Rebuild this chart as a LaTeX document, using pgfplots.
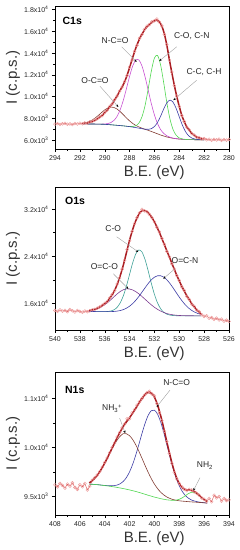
\documentclass[border=0pt]{standalone}
\usepackage{fontspec}
\setmainfont{Liberation Sans}
\usepackage{pgfplots}
\pgfplotsset{compat=1.18}
\usepackage{pgfplotstable}
\usetikzlibrary{arrows.meta}

\definecolor{datac}{RGB}{236,150,150}
\definecolor{datal}{RGB}{215,80,80}
\definecolor{envc}{RGB}{170,30,35}
\definecolor{cbrown}{RGB}{130,60,50}
\definecolor{cmag}{RGB}{200,80,210}
\definecolor{cgreen}{RGB}{80,215,80}
\definecolor{cblue}{RGB}{60,60,165}
\definecolor{cteal}{RGB}{60,160,150}
\definecolor{cpurple}{RGB}{125,60,145}
\definecolor{leader}{RGB}{160,160,160}

% ---------------- C1s ----------------
\pgfplotstableread{
E I
294.0 7480
293.8 7530
293.6 7460
293.4 7510
293.2 7550
293.0 7470
292.8 7500
292.6 7440
292.4 7530
292.2 7490
292.0 7560
291.8 7510
291.6 7590
291.4 7560
291.2 7680
291.0 7740
290.8 7850
290.6 7990
290.4 8150
290.2 8260
290.0 8550
289.8 8750
289.6 9100
289.4 9330
289.2 9720
289.0 10050
288.8 10500
288.6 10880
288.4 11380
288.2 11920
288.0 12700
287.8 13350
287.6 14150
287.4 14700
287.2 15350
287.0 15700
286.8 16150
286.6 16450
286.4 16600
286.2 16850
286.0 16950
285.8 17100
285.6 16820
285.4 16480
285.2 15700
285.0 14750
284.8 13350
284.6 12250
284.4 11000
284.2 10050
284.0 9100
283.8 8250
283.6 7720
283.4 7200
283.2 6950
283.0 6620
282.8 6480
282.6 6280
282.4 6250
282.2 6130
282.0 6150
281.8 6050
281.6 6100
281.4 6000
281.2 6080
281.0 6030
280.8 6100
280.6 5990
280.4 6060
280.2 6020
280.0 6070
}\dataA

\pgfplotstableread{
E I
291.8 7520
291.6 7545
291.4 7590
291.2 7650
291.0 7720
290.8 7820
290.6 7950
290.4 8100
290.2 8290
290.0 8520
289.8 8780
289.6 9050
289.4 9350
289.2 9700
289.0 10080
288.8 10480
288.6 10900
288.4 11350
288.2 11950
288.0 12650
287.8 13400
287.6 14100
287.4 14750
287.2 15280
287.0 15720
286.8 16100
286.6 16400
286.4 16620
286.2 16800
286.0 16950
285.8 17000
285.6 16850
285.4 16450
285.2 15750
285.0 14700
284.8 13400
284.6 12200
284.4 11050
284.2 10000
284.0 9100
283.8 8300
283.6 7700
283.4 7250
283.2 6920
283.0 6650
282.8 6450
282.6 6300
282.4 6200
282.2 6130
282.0 6090
}\envA

\pgfplotstableread{
E oco nco coc cch
291.75 7567 7500 7500 7500
291.50 7624 7497 7497 7497
291.25 7718 7493 7493 7493
291.00 7861 7490 7490 7490
290.75 8054 7486 7485 7485
290.50 8290 7484 7480 7480
290.25 8544 7483 7470 7470
290.00 8784 7494 7460 7460
289.75 8959 7527 7440 7440
289.50 9041 7623 7420 7420
289.25 9004 7825 7395 7395
289.00 8857 8202 7370 7370
288.75 8622 8813 7345 7345
288.50 8341 9677 7320 7320
288.25 8044 10736 7288 7285
288.00 7775 11851 7263 7250
287.75 7543 12799 7256 7205
287.50 7362 13354 7328 7161
287.25 7218 13361 7573 7108
287.00 7108 12802 8158 7061
286.75 7003 11797 9201 7012
286.50 6913 10581 10708 7004
286.25 6805 9361 12330 7057
286.00 6700 8325 13535 7256
285.75 6590 7530 13766 7638
285.50 6480 6975 12885 8207
285.25 6390 6627 11247 8878
285.00 6300 6404 9432 9429
284.75 6240 6281 7956 9680
284.50 6180 6195 6980 9485
284.25 6145 6150 6462 8916
284.00 6110 6110 6216 8142
283.75 6090 6090 6120 7390
283.50 6070 6070 6077 6797
283.25 6060 6060 6060 6415
283.00 6055 6055 6055 6207
282.75 6052 6052 6052 6109
282.50 6050 6050 6050 6068
282.25 6050 6050 6050 6055
282.00 6050 6050 6050 6050
}\compA

% ---------------- O1s ----------------
\pgfplotstableread{
E I
540.0 14800
539.8 14650
539.6 14900
539.4 14700
539.2 14820
539.0 14600
538.8 14950
538.6 14750
538.4 14550
538.2 14800
538.0 14650
537.8 14500
537.6 14700
537.4 14600
537.2 14750
537.0 14900
536.8 15000
536.6 15200
536.4 15400
536.2 15700
536.0 16000
535.8 16300
535.6 16900
535.4 17500
535.2 18200
535.0 19300
534.8 20300
534.6 21800
534.4 23300
534.2 25100
534.0 26600
533.8 28200
533.6 29500
533.4 30500
533.2 31300
533.0 31900
532.8 31650
532.6 31500
532.4 31050
532.2 30500
532.0 29800
531.8 28900
531.6 28100
531.4 27000
531.2 26000
531.0 24800
530.8 23900
530.6 22700
530.4 21800
530.2 20700
530.0 19900
529.8 18800
529.6 18200
529.4 17200
529.2 16700
529.0 15900
528.8 15500
528.6 14900
528.4 14600
528.2 14100
528.0 13800
527.8 13900
527.6 13500
527.4 13600
527.2 13300
527.0 13500
526.8 13200
526.6 13350
526.4 13000
526.2 13150
526.0 12950
}\dataB

\pgfplotstableread{
E teal purple blue env
537.25 14630 14762 14630 14800
537.00 14625 14849 14626 14900
536.75 14620 14982 14623 15050
536.50 14613 15172 14616 15250
536.25 14608 15434 14611 15550
536.00 14609 15770 14607 15950
535.75 14633 16178 14606 16450
535.50 14715 16641 14615 17150
535.25 14919 17132 14641 18000
535.00 15342 17607 14696 19200
534.75 16104 18019 14793 20700
534.50 17301 18316 14950 22500
534.25 18951 18463 15190 24600
534.00 20911 18439 15528 26700
533.75 22861 18277 15974 28500
533.50 24370 17996 16530 30000
533.25 25044 17617 17182 31100
533.00 24690 17172 17905 31700
532.75 23396 16697 18655 31700
532.50 21489 16215 19368 31350
532.25 19410 15759 19982 30700
532.00 17539 15347 20438 29800
531.75 16088 14994 20685 28700
531.50 15100 14700 20690 27500
531.25 14504 14468 20455 26200
531.00 14178 14287 19998 24900
530.75 14020 14157 19371 23600
530.50 13949 14064 18630 22300
530.25 13918 14001 17842 21000
530.00 13905 13959 17068 19800
529.75 13900 13933 16352 18700
529.50 13900 13919 15730 17700
529.25 13900 13910 15217 16800
529.00 13900 13905 14813 16000
528.75 13900 13903 14510 15300
528.50 13900 13901 14293 14700
528.25 13900 13900 14144 14200
}\compB

% ---------------- N1s ----------------
\pgfplotstableread{
E I
408.0 9680
407.8 9650
407.6 9700
407.4 9670
407.2 9630
407.0 9690
406.8 9660
406.6 9710
406.4 9640
406.2 9610
406.0 9680
405.8 9650
405.6 9700
405.4 9600
405.2 9660
405.0 9750
404.8 9790
404.6 9830
404.4 9880
404.2 9950
404.0 10020
403.8 10090
403.6 10170
403.4 10250
403.2 10320
403.0 10410
402.8 10480
402.6 10550
402.4 10610
402.2 10690
402.0 10690
401.8 10780
401.6 10830
401.4 10900
401.2 10950
401.0 11000
400.8 11050
400.6 11090
400.4 11110
400.2 11070
400.0 11040
399.8 10920
399.6 10780
399.4 10660
399.2 10500
399.0 10340
398.8 10160
398.6 10010
398.4 9870
398.2 9770
398.0 9700
397.8 9650
397.6 9610
397.4 9590
397.2 9610
397.0 9600
396.8 9570
396.6 9550
396.4 9520
396.2 9480
396.0 9460
395.8 9430
395.6 9470
395.4 9420
395.2 9520
395.0 9480
394.8 9500
394.6 9430
394.4 9470
394.2 9440
394.0 9450
}\dataC

\pgfplotstableread{
E blue brown green env
405.25 9690 9710 9690 9710
405.00 9688 9740 9688 9740
404.75 9684 9790 9684 9790
404.50 9681 9850 9680 9851
404.25 9675 9925 9674 9926
404.00 9670 10010 9668 10012
403.75 9667 10100 9662 10105
403.50 9665 10195 9655 10205
403.25 9667 10285 9648 10304
403.00 9676 10365 9640 10401
402.75 9696 10425 9631 10490
402.50 9733 10463 9622 10574
402.25 9792 10461 9612 10641
402.00 9878 10431 9602 10707
401.75 9993 10372 9590 10775
401.50 10136 10291 9578 10849
401.25 10298 10192 9564 10926
401.00 10466 10085 9550 11001
400.75 10621 9975 9535 11061
400.50 10743 9869 9520 11092
400.25 10814 9774 9506 11082
400.00 10821 9691 9492 11020
399.75 10761 9623 9480 10904
399.50 10642 9567 9468 10741
399.25 10480 9525 9459 10546
399.00 10293 9493 9450 10336
398.75 10106 9471 9445 10134
398.50 9931 9454 9442 9951
398.25 9783 9443 9446 9804
398.00 9664 9435 9458 9697
397.75 9576 9430 9482 9634
397.50 9514 9426 9515 9607
397.25 9473 9422 9548 9601
397.00 9446 9418 9566 9594
396.75 9430 9415 9560 9575
396.50 9419 9412 9532 9539
396.25 9411 9408 9491 9494
396.00 9406 9404 9453 9455
395.75 9401 9400 9424 9425
}\compC

\pgfplotsset{
  xpsaxis/.style={
    scale only axis, width=174pt, height=143pt,
    anchor=north west,
    x dir=reverse,
    tick align=outside, xtick pos=lower, ytick pos=left,
    minor x tick num=1, minor y tick num=1,
    major tick length=3pt, minor tick length=1.6pt,
    tick style={line width=0.4pt, black},
    axis line style={line width=0.5pt},
    scaled y ticks=false,
    /pgf/number format/assume math mode=true,
    ticklabel style={font=\fontsize{7}{8}\selectfont, text=black!85},
    xlabel={B.E. (eV)}, ylabel={I (c.p.s.)},
    label style={font=\fontsize{15}{17}\selectfont, text=black!80},
    xlabel style={at={(axis description cs:0.57,-0.168)}, anchor=center},
    ylabel style={at={(axis description cs:-0.241,0.5)}, anchor=center},
  },
  datast/.style={color=datal, line width=0.4pt, mark=o, mark size=1.5pt,
    mark options={color=datac, line width=0.4pt}},
  envst/.style={color=envc, line width=1.5pt, smooth, no marks},
  compst/.style={line width=0.6pt, smooth, no marks},
}
\tikzset{
  lbl/.style={font=\fontsize{8.5}{10}\selectfont, text=black!85, inner sep=0pt},
  ttl/.style={font=\fontsize{10.5}{12}\selectfont\bfseries, text=black, inner sep=0pt, anchor=west},
  ldr/.style={draw=leader, line width=0.4pt, -{Stealth[length=2.6pt,width=2.2pt,color=black]}},
}

\begin{document}
\begin{tikzpicture}
\useasboundingbox (0,0) rectangle (240pt,-550pt);

% ===== C1s =====
\begin{axis}[xpsaxis, at={(55pt,-6pt)},
  xmin=280, xmax=294, ymin=5200, ymax=18300,
  xtick={280,282,...,294},
  ytick={6000,8000,10000,12000,14000,16000,18000},
  yticklabels={6.0x10\textsuperscript{3},8.0x10\textsuperscript{3},1.0x10\textsuperscript{4},1.2x10\textsuperscript{4},1.4x10\textsuperscript{4},1.6x10\textsuperscript{4},1.8x10\textsuperscript{4}},
]
\addplot[datast] table[x=E,y=I] {\dataA};
\addplot[compst, color=cbrown] table[x=E,y=oco] {\compA};
\addplot[compst, color=cmag] table[x=E,y=nco] {\compA};
\addplot[compst, color=cgreen] table[x=E,y=coc] {\compA};
\addplot[compst, color=cblue] table[x=E,y=cch] {\compA};
\addplot[envst] table[x=E,y=I] {\envA};
\node[ttl] at (axis cs:293.4,16950) {C1s};
\node[lbl] at (axis cs:289.17,15110) {N-C=O};
\draw[ldr] (axis cs:288.63,14560) -- (axis cs:287.43,13180);
\node[lbl] at (axis cs:283.0,15540) {C-O, C-N};
\draw[ldr] (axis cs:284.21,14560) -- (axis cs:285.6,13270);
\node[lbl] at (axis cs:282.01,12270) {C-C, C-H};
\draw[ldr] (axis cs:282.6,11500) -- (axis cs:284.48,9670);
\node[lbl] at (axis cs:290.78,11500) {O-C=O};
\draw[ldr] (axis cs:290.38,10950) -- (axis cs:288.9,9050);
\end{axis}

% ===== O1s =====
\begin{axis}[xpsaxis, at={(55pt,-187pt)},
  xmin=526, xmax=540, ymin=11500, ymax=35700,
  xtick={526,528,...,540},
  ytick={16000,24000,32000},
  yticklabels={1.6x10\textsuperscript{4},2.4x10\textsuperscript{4},3.2x10\textsuperscript{4}},
]
\addplot[datast] table[x=E,y=I] {\dataB};
\addplot[compst, color=cteal] table[x=E,y=teal] {\compB};
\addplot[compst, color=cpurple] table[x=E,y=purple] {\compB};
\addplot[compst, color=cblue] table[x=E,y=blue] {\compB};
\addplot[envst] table[x=E,y=env] {\compB};
\node[ttl] at (axis cs:539.2,33420) {O1s};
\node[lbl] at (axis cs:535.31,28710) {C-O};
\draw[ldr] (axis cs:535.04,27280) -- (axis cs:533.3,24710);
\node[lbl] at (axis cs:536.03,22270) {O=C-O};
\draw[ldr] (axis cs:535.31,21020) -- (axis cs:534.1,18460);
\node[lbl] at (axis cs:529.54,23290) {O=C-N};
\draw[ldr] (axis cs:530.35,21870) -- (axis cs:531.29,20170);
\end{axis}

% ===== N1s =====
\begin{axis}[xpsaxis, at={(55pt,-372pt)},
  xmin=394, xmax=408, ymin=9218, ymax=11405,
  xtick={394,396,...,408},
  ytick={9500,10250,11000},
  yticklabels={9.5x10\textsuperscript{3},1.0x10\textsuperscript{4},1.1x10\textsuperscript{4}},
]
\addplot[datast] table[x=E,y=I] {\dataC};
\addplot[compst, color=cblue] table[x=E,y=blue] {\compC};
\addplot[compst, color=cbrown] table[x=E,y=brown] {\compC};
\addplot[compst, color=cgreen] table[x=E,y=green] {\compC};
\addplot[envst] table[x=E,y=env] {\compC};
\node[ttl] at (axis cs:407.2,11128) {N1s};
\node[lbl] at (axis cs:403.4,10846) {NH\textsubscript{3}\textsuperscript{+}};
\draw[ldr] (axis cs:402.8,10700) -- (axis cs:402.35,10470);
\node[lbl] at (axis cs:398.21,11246) {N-C=O};
\draw[ldr] (axis cs:398.75,11128) -- (axis cs:399.82,10871);
\node[lbl] at (axis cs:395.93,9973) {NH\textsubscript{2}};
\draw[ldr] (axis cs:396.33,9790) -- (axis cs:396.87,9590);
\end{axis}
\end{tikzpicture}
\end{document}
